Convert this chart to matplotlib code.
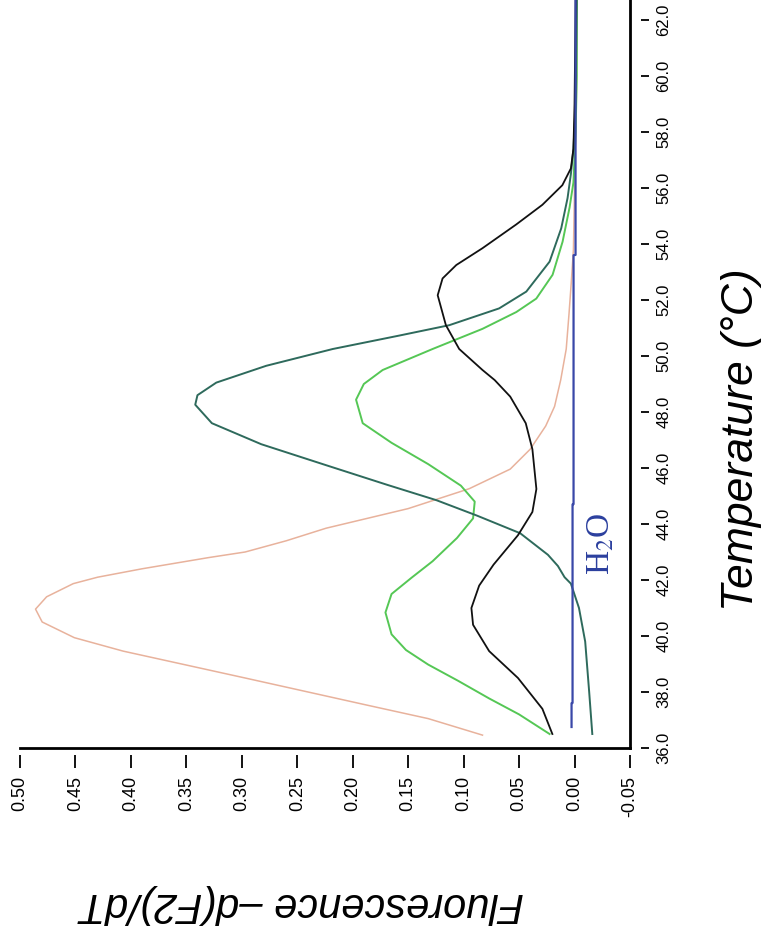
import matplotlib
matplotlib.use('Agg')
import matplotlib.pyplot as plt

plt.rcParams['font.family'] = ['Liberation Sans', 'DejaVu Sans']
plt.rcParams['mathtext.fontset'] = 'stix'

# ---- data (temperature °C, fluorescence -d(F2)/dT) ----
salmon_T = [36.46, 37.05, 37.53, 38.5, 39.46, 39.94, 40.5, 40.96, 41.4, 41.87, 42.1, 42.4,
            42.8, 43.0, 43.4, 43.85, 44.2, 44.55, 45.26, 45.96, 46.67, 47.5, 48.2, 49.14,
            50.25, 51.5, 52.6, 53.8, 56.0, 58.0, 60.0, 62.7]
salmon_F = [0.083, 0.132, 0.187, 0.297, 0.407, 0.451, 0.480, 0.486, 0.476, 0.452, 0.430, 0.390,
            0.330, 0.297, 0.260, 0.224, 0.187, 0.150, 0.095, 0.058, 0.040, 0.026, 0.018, 0.0125,
            0.0075, 0.005, 0.003, 0.001, 0.0, -0.001, -0.002, -0.002]

green_T = [36.5, 37.2, 37.77, 38.4, 38.98, 39.5, 40.06, 40.84, 41.5, 42.08, 42.67, 43.5, 44.2,
           44.8, 45.37, 46.14, 46.9, 47.6, 48.44, 49.0, 49.5, 50.25, 50.97, 51.57, 52.05, 52.9,
           54.08, 55.3, 56.2, 58.0, 60.0, 62.7]
green_F = [0.0225, 0.050, 0.077, 0.105, 0.132, 0.152, 0.165, 0.1705, 0.165, 0.147, 0.128, 0.106,
           0.0915, 0.090, 0.1025, 0.132, 0.165, 0.191, 0.197, 0.190, 0.173, 0.128, 0.083, 0.0525,
           0.0345, 0.0198, 0.0108, 0.0045, 0.001, -0.001, -0.002, -0.002]

teal_T = [36.5, 38.0, 39.8, 41.0, 41.87, 42.1, 42.5, 42.9, 43.67, 44.3, 44.85, 45.4, 46.1, 46.85,
          47.6, 48.26, 48.6, 49.05, 49.65, 50.25, 50.73, 51.1, 51.7, 52.3, 53.37, 54.56, 55.64,
          56.5, 57.4, 59.0, 62.7]
teal_F = [-0.016, -0.0132, -0.0096, -0.004, 0.0033, 0.009, 0.015, 0.024, 0.049, 0.088, 0.1245,
          0.169, 0.224, 0.2825, 0.327, 0.342, 0.340, 0.323, 0.278, 0.218, 0.158, 0.113, 0.068,
          0.0435, 0.0225, 0.012, 0.0063, 0.0033, 0.001, -0.001, -0.002]

black_T = [36.5, 37.4, 38.5, 39.46, 40.4, 41.0, 41.8, 42.55, 43.6, 44.43, 45.25, 46.67, 47.6,
           48.55, 49.14, 49.5, 50.25, 51.1, 52.17, 52.77, 53.25, 53.85, 54.7, 55.4, 56.1, 56.7,
           57.4, 59.0, 62.7]
black_F = [0.020, 0.029, 0.051, 0.077, 0.0915, 0.093, 0.086, 0.073, 0.051, 0.038, 0.0344, 0.038,
           0.044, 0.058, 0.072, 0.083, 0.104, 0.116, 0.1234, 0.119, 0.1066, 0.083, 0.0525, 0.029,
           0.011, 0.0033, 0.001, 0.0, -0.001]

water_T = [36.75, 37.6, 37.61, 44.7, 44.71, 53.6, 53.61, 62.7]
water_F = [0.0027, 0.0027, 0.0018, 0.0018, 0.0009, 0.0009, -0.0009, -0.0009]

flu_ticks = [0.50, 0.45, 0.40, 0.35, 0.30, 0.25, 0.20, 0.15, 0.10, 0.05, 0.00, -0.05]
flu_labels = ['0.50', '0.45', '0.40', '0.35', '0.30', '0.25', '0.20', '0.15', '0.10', '0.05',
              '0.00', '-0.05']
temp_ticks = [36, 38, 40, 42, 44, 46, 48, 50, 52, 54, 56, 58, 60, 62]
temp_labels = ['36.0', '38.0', '40.0', '42.0', '44.0', '46.0', '48.0', '50.0', '52.0', '54.0',
               '56.0', '58.0', '60.0', '62.0']

W, H = 766, 935
fig = plt.figure(figsize=(W / 100, H / 100), dpi=100)
ax = fig.add_axes([20 / W, (H - 748) / H, 610 / W, 748 / H])
ax.set_xlim(0.50, -0.05)
ax.set_ylim(36, 36 + 748 / 28)

ax.plot(salmon_F, salmon_T, color='#E8B29C', lw=1.1)
ax.plot(green_F, green_T, color='#55C755', lw=1.4)
ax.plot(teal_F, teal_T, color='#2E6A5C', lw=1.4)
ax.plot(black_F, black_T, color='#111111', lw=1.3)
ax.plot(water_F, water_T, color='#3A48A8', lw=1.6)

for s in ['top', 'left']:
    ax.spines[s].set_visible(False)
ax.spines['bottom'].set_position(('outward', 5))
ax.spines['right'].set_position(('outward', 8))
ax.spines['bottom'].set_visible(False)
ax.spines['right'].set_visible(False)
ax.plot([0, 1], [0, 0], transform=ax.transAxes, color='black', lw=2, clip_on=False)
ax.plot([1, 1], [0, 1], transform=ax.transAxes, color='black', lw=2, clip_on=False)

ax.set_xticks(flu_ticks)
ax.set_xticklabels(flu_labels)
ax.tick_params(axis='x', direction='out', length=9, width=1.3, pad=6, labelsize=13,
               labelrotation=90)
ax.yaxis.tick_right()
ax.set_yticks(temp_ticks)
ax.set_yticklabels(temp_labels)
ax.tick_params(axis='y', direction='out', length=6, width=1.3, pad=5, labelsize=12,
               labelrotation=90)
for lab in ax.get_yticklabels():
    lab.set_va('center')

ax.text(-0.0245, 43.3, 'H$_2$O', rotation=90, fontsize=24, color='#2B3F9E',
        ha='center', va='center', family='Liberation Serif')

fig.text(742 / W, 1 - 440 / H, 'Temperature (°C)', rotation=90, fontsize=32,
         style='italic', ha='center', va='center')
fig.text(302 / W, 1 - 904 / H, 'Fluorescence \u2013d(F2)/dT', rotation=180, fontsize=30,
         style='italic', ha='center', va='center')

fig.savefig('out.png', dpi=100)
